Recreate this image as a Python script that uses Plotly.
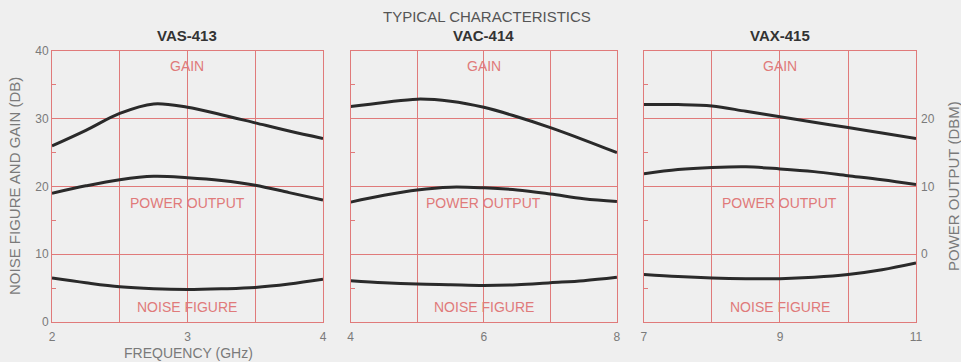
import plotly.graph_objects as go

# ---- data ----
titles = ["VAS-413", "VAC-414", "VAX-415"]

freq1 = [2, 2.25, 2.5, 2.75, 3, 3.25, 3.5, 3.75, 4]
gain1 = [26.0, 28.3, 30.8, 32.2, 31.7, 30.6, 29.4, 28.2, 27.1]
power1 = [19.0, 20.1, 21.0, 21.5, 21.3, 20.9, 20.2, 19.1, 18.0]
noise1 = [6.5, 5.8, 5.2, 4.9, 4.8, 4.9, 5.1, 5.6, 6.3]

freq2 = [4, 4.5, 5, 5.5, 6, 6.5, 7, 7.5, 8]
gain2 = [31.8, 32.4, 32.9, 32.6, 31.7, 30.3, 28.7, 26.9, 25.0]
power2 = [17.7, 18.7, 19.5, 19.9, 19.8, 19.5, 18.9, 18.2, 17.8]
noise2 = [6.1, 5.8, 5.6, 5.5, 5.4, 5.5, 5.8, 6.1, 6.6]

freq3 = [7, 7.5, 8, 8.5, 9, 9.5, 10, 10.5, 11]
gain3 = [32.1, 32.1, 31.9, 31.1, 30.3, 29.5, 28.7, 27.9, 27.1]
power3 = [21.9, 22.5, 22.8, 22.9, 22.6, 22.2, 21.6, 21.0, 20.3]
noise3 = [7.0, 6.7, 6.5, 6.4, 6.4, 6.6, 7.0, 7.7, 8.7]

xticks1 = [2, 2.5, 3, 3.5, 4]
xticks2 = [4, 5, 6, 7, 8]
xticks3 = [7, 8, 9, 10, 11]
xlabels1 = ["2", "", "3", "", "4"]
xlabels2 = ["4", "", "6", "", "8"]
xlabels3 = ["7", "", "9", "", "11"]
yticks = [0, 10, 20, 30, 40]
right_ticks = [0, 10, 20]

curve_labels = ["GAIN", "POWER OUTPUT", "NOISE FIGURE"]
label_y = [37.8, 17.6, 2.2]

# ---- style ----
RED = "#e07a7a"
TXT = "#7a7a7a"
BG = "#efefef"
FONT = "Liberation Sans"

panels = [
    (freq1, [gain1, power1, noise1], xticks1, xlabels1, (0.0541, 0.3361)),
    (freq2, [gain2, power2, noise2], xticks2, xlabels2, (0.3649, 0.6420)),
    (freq3, [gain3, power3, noise3], xticks3, xlabels3, (0.6701, 0.9532)),
]
ydom = (0.1105, 0.859)

fig = go.Figure()
annotations = []


def paper_note(x_px, y_px, text, size, color, angle=0):
    return dict(x=x_px / 961, y=1 - y_px / 362, xref="paper", yref="paper",
                xanchor="center", yanchor="middle", text=text, showarrow=False,
                textangle=angle, font=dict(family=FONT, size=size, color=color))


for i, (fx, series, xt, xl, dom) in enumerate(panels):
    n = "" if i == 0 else str(i + 1)
    for s in series:
        fig.add_trace(go.Scatter(
            x=fx, y=s, mode="lines", line=dict(color="#2a2a2a", width=3, shape="spline", smoothing=1.0),
            xaxis="x" + n, yaxis="y" + n, showlegend=False, hoverinfo="skip"))
    fig.layout["xaxis" + n] = dict(
        domain=list(dom), anchor="y" + n, range=[fx[0], fx[-1]], automargin=False,
        tickvals=xt, ticktext=xl, showgrid=True, gridcolor=RED, gridwidth=1,
        showline=True, linecolor=RED, linewidth=1, mirror=True, zeroline=False,
        ticks="", ticklabelstandoff=4, tickfont=dict(family=FONT, size=12, color=TXT),
    )
    fig.layout["yaxis" + n] = dict(
        domain=list(ydom), anchor="x" + n, range=[0, 40], automargin=False,
        tickvals=yticks, showticklabels=(i == 0), showgrid=True, gridcolor=RED, gridwidth=1,
        showline=True, linecolor=RED, linewidth=1, mirror=True, zeroline=False,
        ticks="", tickfont=dict(family=FONT, size=12, color=TXT),
        minor=dict(tickvals=[5, 15, 25, 35], ticks="inside", ticklen=4, tickcolor=RED, showgrid=False),
    )
    cx = (fx[0] + fx[-1]) / 2
    for lab, ly in zip(curve_labels, label_y):
        annotations.append(dict(x=cx, y=ly, xref="x" + n, yref="y" + n, text=lab, showarrow=False,
                                xanchor="center", yanchor="middle",
                                font=dict(family=FONT, size=14, color=RED)))
    annotations.append(paper_note((dom[0] + dom[1]) / 2 * 961, 35, "<b>" + titles[i] + "</b>", 15, "#333333"))

# right axis (power output in dBm = dB scale - 10)
fig.add_trace(go.Scatter(x=[freq3[0]], y=[0], mode="markers", marker=dict(opacity=0),
                         xaxis="x3", yaxis="y4", showlegend=False, hoverinfo="skip"))
fig.layout["yaxis4"] = dict(
    overlaying="y3", anchor="x3", side="right", range=[-10, 30], tickvals=right_ticks,
    showgrid=False, zeroline=False, showline=False, ticks="", automargin=False,
    ticklabelstandoff=4, tickfont=dict(family=FONT, size=12, color=TXT),
)

# titles
annotations.append(paper_note(487, 16, "TYPICAL CHARACTERISTICS", 15, "#555555"))
annotations.append(paper_note(188, 353, "FREQUENCY (GHz)", 14, TXT))
annotations.append(paper_note(14, 186, "NOISE FIGURE AND GAIN (DB)", 15, TXT, -90))
annotations.append(paper_note(953, 186, "POWER OUTPUT (DBM)", 15, TXT, -90))

fig.update_layout(
    width=961, height=362, margin=dict(l=0, r=0, t=0, b=0),
    paper_bgcolor=BG, plot_bgcolor=BG, annotations=annotations,
)

fig.write_html(
    "out.html",
    config={"displayModeBar": False},
    post_script="document.body.style.margin='0';document.body.style.background='#efefef';",
)
